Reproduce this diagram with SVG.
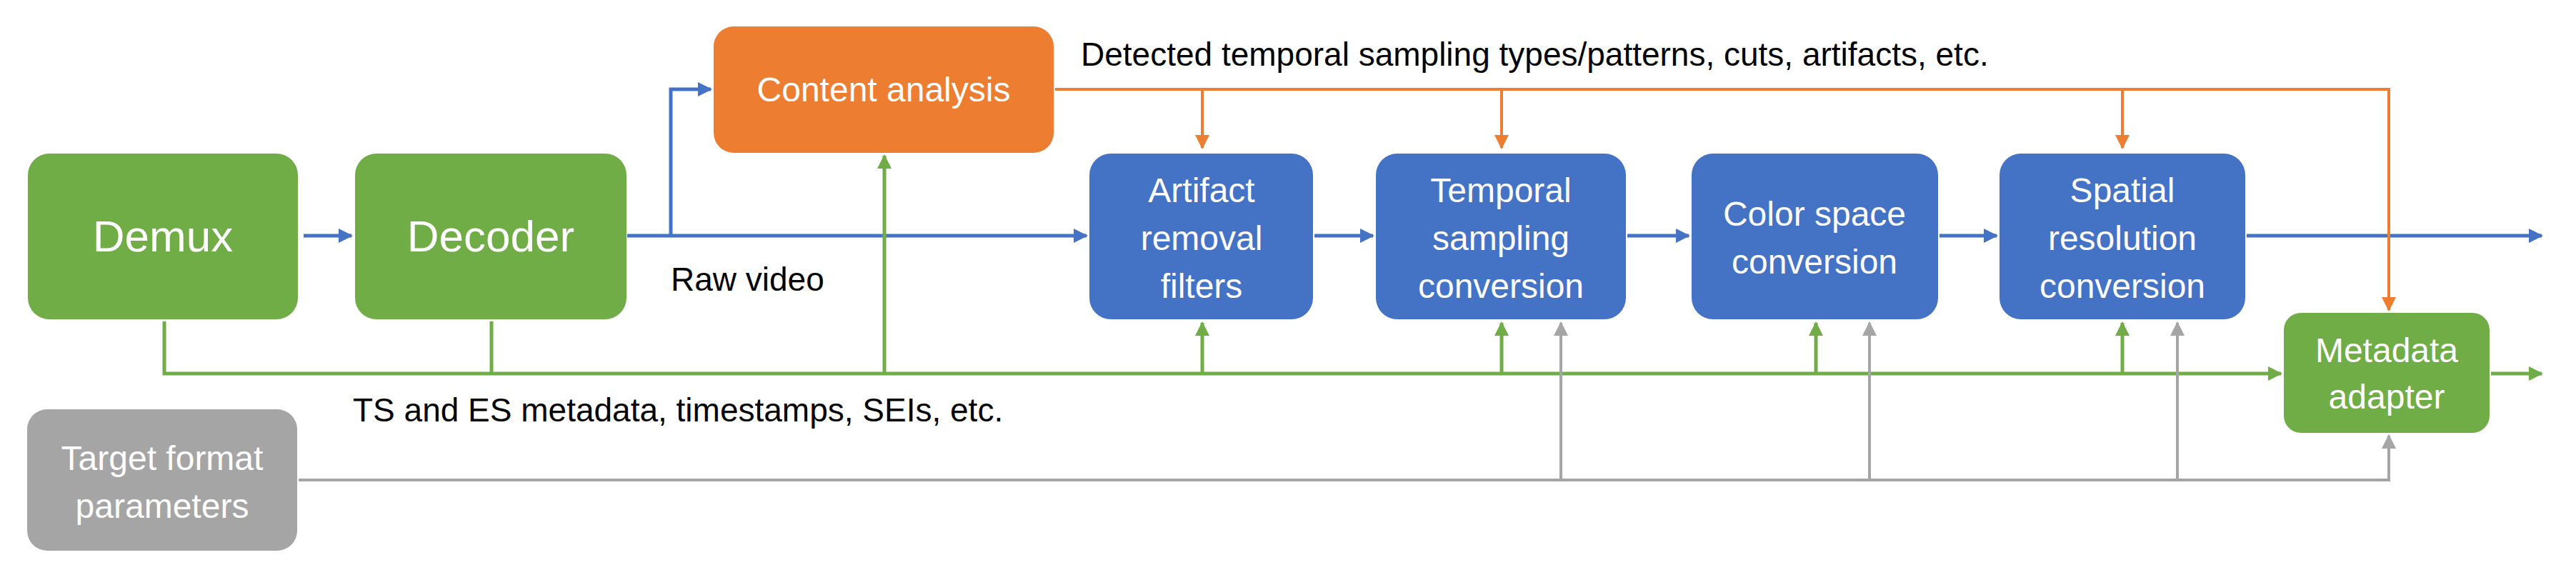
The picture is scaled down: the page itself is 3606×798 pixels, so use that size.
<svg xmlns="http://www.w3.org/2000/svg" width="3606" height="798" viewBox="0 0 3606 798">
<style>
text{font-family:"Liberation Sans",Arial,sans-serif}
.w{fill:#fff;font-size:48px;text-anchor:middle}
.k{fill:#000;font-size:46px}
.b{stroke:#4472C4;stroke-width:5;fill:none}
.g{stroke:#70AD47;stroke-width:5;fill:none}
.o{stroke:#ED7D31;stroke-width:4;fill:none}
.y{stroke:#A5A5A5;stroke-width:4;fill:none}
</style>
<defs>
<marker id="mb" viewBox="0 0 10 10" refX="9" refY="5" markerWidth="4" markerHeight="4" orient="auto"><path d="M0,0L10,5L0,10z" fill="#4472C4"/></marker>
<marker id="mg" viewBox="0 0 10 10" refX="9" refY="5" markerWidth="4" markerHeight="4" orient="auto"><path d="M0,0L10,5L0,10z" fill="#70AD47"/></marker>
<marker id="mo" viewBox="0 0 10 10" refX="9" refY="5" markerWidth="5" markerHeight="5" orient="auto"><path d="M0,0L10,5L0,10z" fill="#ED7D31"/></marker>
<marker id="my" viewBox="0 0 10 10" refX="9" refY="5" markerWidth="5" markerHeight="5" orient="auto"><path d="M0,0L10,5L0,10z" fill="#A5A5A5"/></marker>
</defs>
<g id="connectors">
<path class="b" d="M425,330H492" marker-end="url(#mb)"/>
<path class="b" d="M878,330H1521" marker-end="url(#mb)"/>
<path class="b" d="M939,330V125H995" marker-end="url(#mb)"/>
<path class="b" d="M1840,330H1922" marker-end="url(#mb)"/>
<path class="b" d="M2278,330H2364" marker-end="url(#mb)"/>
<path class="b" d="M2715,330H2795" marker-end="url(#mb)"/>
<path class="b" d="M3145,330H3558" marker-end="url(#mb)"/>
<path class="o" d="M1477,125H3344V434" marker-end="url(#mo)"/>
<path class="o" d="M1683,125V207" marker-end="url(#mo)"/>
<path class="o" d="M2102,125V207" marker-end="url(#mo)"/>
<path class="o" d="M2971,125V207" marker-end="url(#mo)"/>
<path class="g" d="M230,450V523H3193" marker-end="url(#mg)"/>
<path class="g" d="M688,450V523"/>
<path class="g" d="M1238,523V218" marker-end="url(#mg)"/>
<path class="g" d="M1683,523V452" marker-end="url(#mg)"/>
<path class="g" d="M2102,523V452" marker-end="url(#mg)"/>
<path class="g" d="M2542,523V452" marker-end="url(#mg)"/>
<path class="g" d="M2971,523V452" marker-end="url(#mg)"/>
<path class="g" d="M3487,523H3558" marker-end="url(#mg)"/>
<path class="y" d="M418,672H3344V610" marker-end="url(#my)"/>
<path class="y" d="M2185,672V452" marker-end="url(#my)"/>
<path class="y" d="M2617,672V452" marker-end="url(#my)"/>
<path class="y" d="M3048,672V452" marker-end="url(#my)"/>
</g>
<text class="k" x="1513" y="92">Detected temporal sampling types/patterns, cuts, artifacts, etc.</text>
<text class="k" x="939" y="407">Raw video</text>
<text class="k" x="494" y="590">TS and ES metadata, timestamps, SEIs, etc.</text>
<g id="demux"><rect x="39" y="215" width="378" height="232" rx="30" fill="#70AD47"/><text class="w" x="228" y="352" style="font-size:62px">Demux</text></g>
<g id="decoder"><rect x="497" y="215" width="380" height="232" rx="30" fill="#70AD47"/><text class="w" x="687" y="352" style="font-size:62px">Decoder</text></g>
<g id="content"><rect x="999" y="37" width="476" height="177" rx="28" fill="#ED7D31"/><text class="w" x="1237" y="142">Content analysis</text></g>
<g id="artifact"><rect x="1525" y="215" width="313" height="232" rx="30" fill="#4472C4"/><text class="w" x="1682" y="283">Artifact</text><text class="w" x="1682" y="350">removal</text><text class="w" x="1682" y="417">filters</text></g>
<g id="temporal"><rect x="1926" y="215" width="350" height="232" rx="30" fill="#4472C4"/><text class="w" x="2101" y="283">Temporal</text><text class="w" x="2101" y="350">sampling</text><text class="w" x="2101" y="417">conversion</text></g>
<g id="color"><rect x="2368" y="215" width="345" height="232" rx="30" fill="#4472C4"/><text class="w" x="2540" y="316">Color space</text><text class="w" x="2540" y="383">conversion</text></g>
<g id="spatial"><rect x="2799" y="215" width="344" height="232" rx="30" fill="#4472C4"/><text class="w" x="2971" y="283">Spatial</text><text class="w" x="2971" y="350">resolution</text><text class="w" x="2971" y="417">conversion</text></g>
<g id="metadata"><rect x="3197" y="438" width="288" height="168" rx="24" fill="#70AD47"/><text class="w" x="3341" y="507">Metadata</text><text class="w" x="3341" y="572">adapter</text></g>
<g id="target"><rect x="38" y="573" width="378" height="198" rx="28" fill="#A5A5A5"/><text class="w" x="227" y="658">Target format</text><text class="w" x="227" y="725">parameters</text></g>
</svg>
